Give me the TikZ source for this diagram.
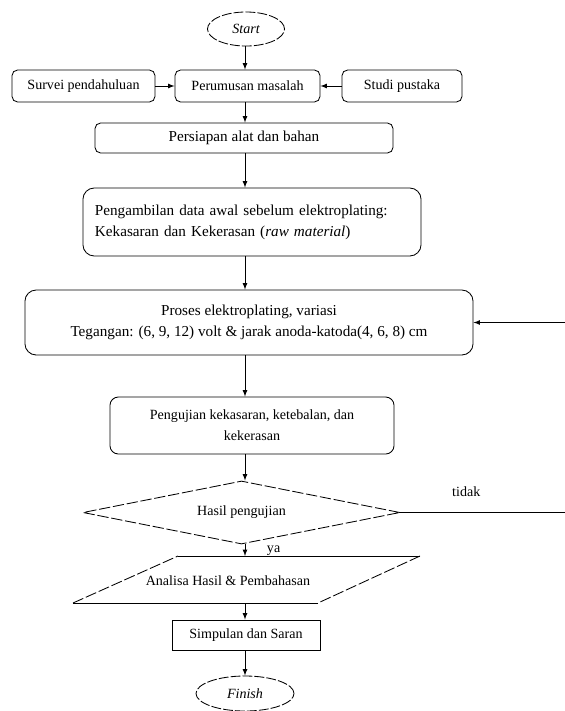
\documentclass[tikz,border=0pt]{standalone}
\usepackage{fontspec}
\setmainfont{Liberation Serif}
\usetikzlibrary{arrows,calc,shapes.geometric}

\begin{document}
\begin{tikzpicture}[x=0.025cm,y=-0.025cm,line width=0.6pt,
  font=\fontsize{10}{15}\selectfont,
  kotak/.style={draw,rounded corners=4pt,inner sep=2pt,align=center},
  besar/.style={font=\fontsize{10.8}{15}\selectfont},
  ujung/.style={draw,ellipse,inner sep=1pt,dash pattern=on 7pt off 1.5pt,font=\fontsize{10}{15}\selectfont\itshape},
  putus/.style={dash pattern=on 8pt off 2pt},
  arr/.style={-latex}]
\useasboundingbox (0,0) rectangle (565,711);
\coordinate (sumbu) at (245,0);

\node[ujung,minimum width=1.925cm,minimum height=0.85cm] (start) at (246,29) {Start};
\node[kotak,minimum width=3.575cm,minimum height=0.8cm] (survei) at (83.5,86) {Survei pendahuluan};
\node[kotak,minimum width=3.625cm,minimum height=0.8cm] (rumus) at (247.5,86) {Perumusan masalah};
\node[kotak,minimum width=3cm,minimum height=0.8cm] (studi) at (402,86) {Studi pustaka};
\node[kotak,besar,minimum width=7.45cm,minimum height=0.75cm] (siap) at (244,138) {Persiapan alat dan bahan};
\node[kotak,besar,rounded corners=8pt,minimum width=8.45cm,minimum height=1.7cm,text width=7.85cm,align=left] (ambil) at (252,222)
  {Pengambilan data awal sebelum elektroplating:\\Kekasaran dan Kekerasan (\textit{raw material})};
\node[kotak,besar,rounded corners=8pt,minimum width=11.2cm,minimum height=1.625cm] (proses) at (249,322.5)
  {Proses elektroplating, variasi\\Tegangan: (6, 9, 12) volt \& jarak anoda-katoda(4, 6, 8) cm};
\node[kotak,rounded corners=6pt,minimum width=7.1cm,minimum height=1.425cm] (uji) at (252,425.5)
  {Pengujian kekasaran, ketebalan, dan\\kekerasan};
\node[draw,diamond,putus,aspect=5,inner sep=0pt,minimum width=7.925cm,minimum height=1.575cm] (hasil) at (241.5,512.5) {Hasil pengujian};

\coordinate (p1) at (178,556);
\coordinate (p2) at (420,556);
\coordinate (p3) at (318,603);
\coordinate (p4) at (73,603);
\draw (p1) -- (p2);
\draw[putus] (p2) -- (p3);
\draw (p3) -- (p4);
\draw[putus] (p4) -- (p1);
\node (analisa) at (228,581) {Analisa Hasil \& Pembahasan};

\node[draw,minimum width=3.7cm,minimum height=0.75cm] (simpulan) at (246,635) {Simpulan dan Saran};
\node[ujung,minimum width=2.45cm,minimum height=0.875cm] (finish) at (245,693.5) {Finish};

\coordinate (balik) at (565,322.5);
\coordinate (tidakend) at (565,512.5);

\draw[arr] (start.south -| sumbu) -- (rumus.north -| sumbu);
\draw[arr] (survei) -- (rumus);
\draw[arr] (studi) -- (rumus);
\draw[arr] (rumus.south -| sumbu) -- (siap.north -| sumbu);
\draw[arr] (siap.south -| sumbu) -- (ambil.north -| sumbu);
\draw[arr] (ambil.south -| sumbu) -- (proses.north -| sumbu);
\draw[arr] (proses.south -| sumbu) -- (uji.north -| sumbu);
\draw[arr] (uji.south -| sumbu) -- (hasil.north -| sumbu);
\draw[arr] (balik) -- (proses.east);
\draw (hasil.east) -- (tidakend) node[pos=0.4,above=8pt] {tidak};
\draw[arr] (hasil.south -| sumbu) -- (p1 -| sumbu) node[midway,right=12pt] {ya};
\draw[arr] (p4 -| sumbu) -- (simpulan.north -| sumbu);
\draw[arr] (simpulan.south -| sumbu) -- (finish.north -| sumbu);
\end{tikzpicture}
\end{document}
